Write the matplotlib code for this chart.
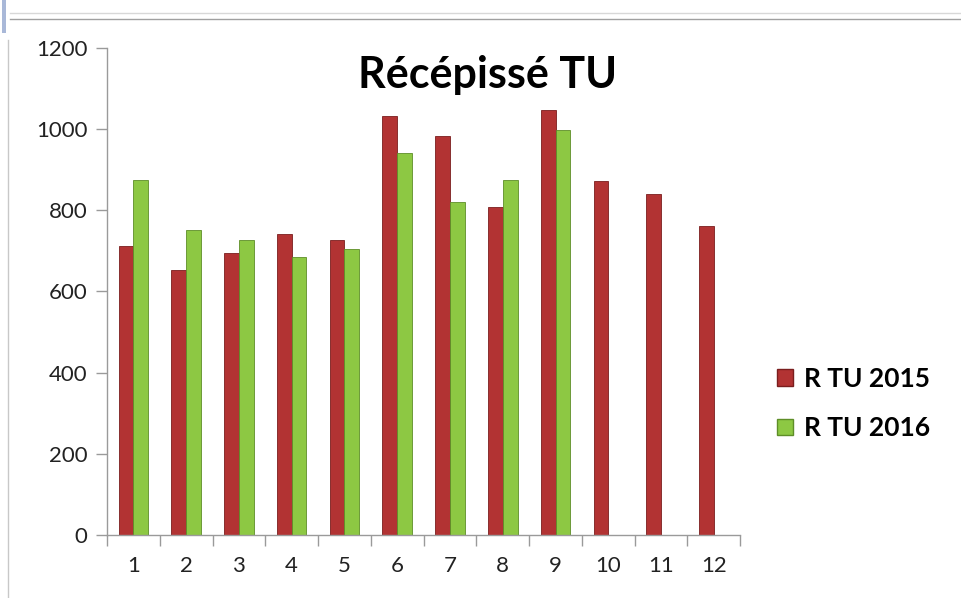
import numpy as np
import matplotlib.pyplot as plt
from matplotlib.lines import Line2D
from matplotlib.patches import Rectangle

# values
months = [str(m) for m in range(1, 13)]
tu_2015 = [712, 654, 695, 741, 728, 1032, 984, 807, 1048, 872, 839, 762]
tu_2016 = [874, 752, 727, 686, 705, 942, 820, 874, 999]

red = '#B23333'
red_edge = '#7A1E1E'
green = '#8DC843'
green_edge = '#5E8E28'

plt.rcParams['font.family'] = ['Lato', 'DejaVu Sans']

fig = plt.figure(figsize=(9.61, 5.98), dpi=100)
ax = fig.add_axes([0.1113, 0.1054, 0.659, 0.8144])

x = np.arange(len(months))
w = 0.28
ax.bar(x - w / 2, tu_2015, width=w, color=red, edgecolor=red_edge, linewidth=0.6, label='R TU 2015')
ax.bar(x[:len(tu_2016)] + w / 2, tu_2016, width=w, color=green, edgecolor=green_edge, linewidth=0.6,
       label='R TU 2016')

ax.set_xlim(-0.5, len(months) - 0.5)
ax.set_ylim(0, 1200)
ax.set_yticks(range(0, 1201, 200))
ax.set_xticks(x)
ax.set_xticklabels(months)
ax.set_xticks(np.arange(-0.5, len(months), 1), minor=True)

for s in ['top', 'right']:
    ax.spines[s].set_visible(False)
for s in ['left', 'bottom']:
    ax.spines[s].set_color('#9A9A9A')
    ax.spines[s].set_linewidth(1)

ax.tick_params(axis='y', length=8, width=1, color='#9A9A9A', labelsize=16, pad=6, labelcolor='#222222')
ax.tick_params(axis='x', which='major', length=0, labelsize=16, pad=15, labelcolor='#222222')
ax.tick_params(axis='x', which='minor', length=8, width=1, color='#9A9A9A')

fig.text(0.507, 0.874, 'Récépissé TU', ha='center', va='center', fontsize=31, fontweight='bold')

handles = [Rectangle((0, 0), 1, 1, facecolor=red, edgecolor=red_edge),
           Rectangle((0, 0), 1, 1, facecolor=green, edgecolor=green_edge)]
fig.legend(handles, ['R TU 2015', 'R TU 2016'], loc='center left', bbox_to_anchor=(0.795, 0.325),
           frameon=False, prop={'size': 19, 'weight': 'bold'}, handlelength=0.6, handleheight=0.6,
           handletextpad=0.4, labelspacing=0.95, borderpad=0)

# slide decorations around the chart
fig.patches.append(Rectangle((2 / 961, 1 - 33 / 598), 4 / 961, 33 / 598, transform=fig.transFigure,
                             facecolor='#A9B8D8', edgecolor='none'))
fig.lines.append(Line2D([10 / 961, 1], [1 - 13 / 598] * 2, transform=fig.transFigure, color='#D8D8D8', lw=1))
fig.lines.append(Line2D([10 / 961, 1], [1 - 19 / 598] * 2, transform=fig.transFigure, color='#A0A0A0', lw=1))
fig.lines.append(Line2D([8 / 961] * 2, [0, 1 - 40 / 598], transform=fig.transFigure, color='#C8C8C8', lw=1))

fig.savefig('out.png', dpi=100)
